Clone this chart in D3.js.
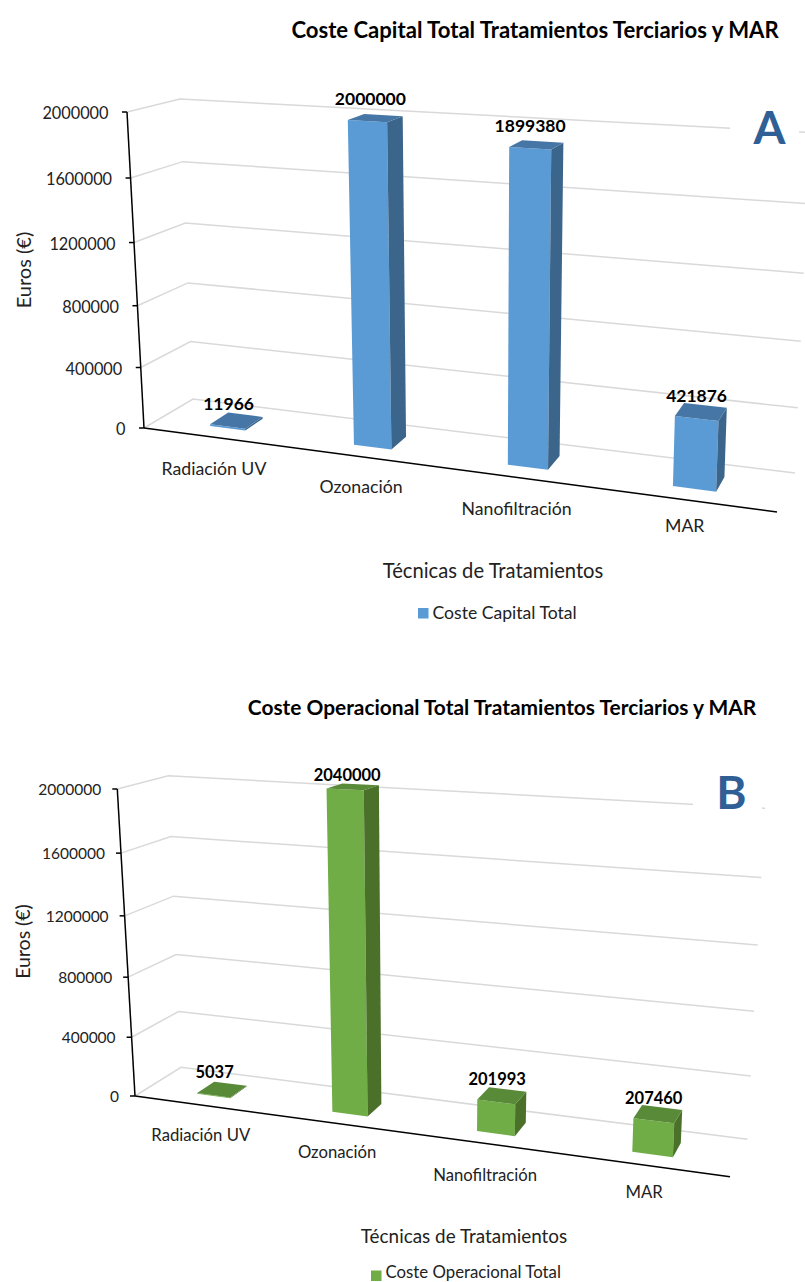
<!DOCTYPE html>
<html lang="es">
<head>
    <meta charset="UTF-8">
    <title>Costes Tratamientos Terciarios y MAR</title>
    <script src="https://d3js.org/d3.v7.min.js"></script>
    <style>
        body { margin: 0; padding: 0; background-color: #fff; }
        svg { display: block; }
        text { font-family: Lato, "Open Sans", sans-serif; fill: #222; }
    </style>
</head>
<body>
    <svg id="charts" width="805" height="1282"></svg>
    <script>
        // Chart values
        var categories = ["Radiación UV", "Ozonación", "Nanofiltración", "MAR"];
        var capitalValues = [11966, 2000000, 1899380, 421876];
        var operationalValues = [5037, 2040000, 201993, 207460];
        var yTicks = [0, 400000, 800000, 1200000, 1600000, 2000000];

        var svg = d3.select("#charts");

        // Foreshortening along the category and value axes
        var widthPersp = 0.87, heightPersp = 0.947;
        // Depth range of the bars inside the floor
        var barFront = 0.3, barBack = 0.69;

        function persp(t, a) {
            return a * t / (1 + t * (a - 1));
        }

        function lerp(p, q, t) {
            return [p[0] + (q[0] - p[0]) * t, p[1] + (q[1] - p[1]) * t];
        }

        function drawChart(c) {
            var g = svg.append("g");

            // Category position and value both run 0..1 inside the box
            var xScale = d3.scaleBand().domain(categories).range([0, 1])
                .paddingInner(0.75).paddingOuter(0.375);
            var yScale = d3.scaleLinear().domain([0, 2000000]).range([0, 1]);
            var labelScale = yScale.copy().clamp(true);

            // Maps (category, value, depth) onto the screen box
            function project(t, v, w) {
                var s = persp(t, widthPersp), r = persp(v, heightPersp);
                var bottom = lerp(lerp(c.box.fbl, c.box.fbr, s), lerp(c.box.bbl, c.box.bbr, s), w);
                var top = lerp(lerp(c.box.ftl, c.box.ftr, s), lerp(c.box.btl, c.box.btr, s), w);
                return lerp(bottom, top, r);
            }

            var line = d3.line();

            // Grid lines on the side wall and the back wall
            g.append("g").selectAll("path")
                .data(yTicks)
                .enter()
                .append("path")
                    .attr("d", function(d) {
                        var v = yScale(d);
                        return line([project(0, v, 0), project(0, v, 1), project(1, v, 1)]);
                    })
                    .attr("fill", "none")
                    .attr("stroke", "#d9d9d9")
                    .attr("stroke-width", 1.5);

            // Bars: front, side and top faces
            var rows = categories.map(function(name, i) {
                return { name: name, value: c.values[i], nudge: c.labelNudge[i] };
            });
            var bars = g.append("g").selectAll("g")
                .data(rows)
                .enter()
                .append("g");

            function face(fn, color) {
                bars.append("path")
                    .attr("d", function(d) {
                        var t0 = xScale(d.name), t1 = t0 + xScale.bandwidth(), v = yScale(d.value);
                        return line(fn(t0, t1, v)) + "Z";
                    })
                    .attr("fill", color);
            }
            face(function(t0, t1, v) {
                return [project(t0, 0, barFront), project(t1, 0, barFront), project(t1, v, barFront), project(t0, v, barFront)];
            }, c.colors[0]);
            face(function(t0, t1, v) {
                return [project(t1, 0, barFront), project(t1, 0, barBack), project(t1, v, barBack), project(t1, v, barFront)];
            }, c.colors[1]);
            face(function(t0, t1, v) {
                return [project(t0, v, barFront), project(t1, v, barFront), project(t1, v, barBack), project(t0, v, barBack)];
            }, c.colors[2]);

            // Value labels above each bar
            bars.append("text")
                .attr("x", function(d) {
                    return project(xScale(d.name) + xScale.bandwidth() / 2, labelScale(d.value), barFront)[0] + 1 + d.nudge[0];
                })
                .attr("y", function(d) {
                    return project(xScale(d.name) + xScale.bandwidth() / 2, labelScale(d.value), barFront)[1] - 23 + d.nudge[1];
                })
                .attr("text-anchor", "middle")
                .attr("dominant-baseline", "central")
                .style("font-size", c.labelSize + "px")
                .style("font-weight", "bold")
                .style("fill", "#000")
                .text(function(d) { return d.value; });

            // Value axis: axis generator, then each tick moved onto the slanted edge
            var axis = g.append("g")
                .call(d3.axisLeft(yScale).tickValues(yTicks).tickSize(5).tickPadding(c.tickPadding).tickFormat(d3.format("d")));
            axis.select(".domain")
                .attr("d", line([project(0, 0, 0), project(0, 1, 0)]))
                .attr("stroke", "#000")
                .attr("stroke-width", 1.5);
            axis.selectAll(".tick")
                .attr("transform", function(d) {
                    var p = project(0, yScale(d), 0);
                    return "translate(" + p[0] + "," + p[1] + ")";
                });
            axis.selectAll(".tick line")
                .attr("stroke", "#000")
                .attr("stroke-width", 1.5);
            axis.selectAll(".tick text")
                .attr("font-family", null)
                .attr("font-size", null)
                .attr("dy", c.tickDy)
                .style("font-size", c.tickSize + "px");

            // Floor edge and category labels
            g.append("path")
                .attr("d", line([project(0, 0, 0), project(1, 0, 0)]))
                .attr("stroke", "#000")
                .attr("stroke-width", 1.5);
            g.append("g").selectAll("text")
                .data(categories)
                .enter()
                .append("text")
                    .attr("x", function(d, i) { return project(xScale(d) + xScale.bandwidth() / 2, 0, 0)[0] + c.catNudge[i][0]; })
                    .attr("y", function(d, i) { return project(xScale(d) + xScale.bandwidth() / 2, 0, 0)[1] + c.catOffset + c.catNudge[i][1]; })
                    .attr("text-anchor", "middle")
                    .attr("dominant-baseline", "central")
                    .style("font-size", c.catSize + "px")
                    .text(function(d) { return d; });

            // Title and axis titles
            g.append("text")
                .attr("x", c.titlePos[0]).attr("y", c.titlePos[1])
                .attr("text-anchor", "middle")
                .attr("dominant-baseline", "central")
                .style("font-size", c.titleSize + "px")
                .style("font-weight", "bold")
                .style("fill", "#000")
                .text(c.title);
            g.append("text")
                .attr("transform", "translate(" + c.yTitlePos[0] + "," + c.yTitlePos[1] + ") rotate(-90)")
                .attr("text-anchor", "middle")
                .attr("dominant-baseline", "central")
                .style("font-size", c.yTitleSize + "px")
                .text("Euros (€)");
            g.append("text")
                .attr("x", c.xTitlePos[0]).attr("y", c.xTitlePos[1])
                .attr("text-anchor", "middle")
                .attr("dominant-baseline", "central")
                .style("font-size", c.xTitleSize + "px")
                .text("Técnicas de Tratamientos");

            // Legend
            g.append("rect")
                .attr("x", c.legendPos[0]).attr("y", c.legendPos[2])
                .attr("width", 10.5).attr("height", 10.5)
                .attr("fill", c.colors[0]);
            g.append("text")
                .attr("x", c.legendPos[0] + 14.5).attr("y", c.legendPos[1])
                .attr("dominant-baseline", "central")
                .style("font-size", c.legendSize + "px")
                .text(c.series);

            // Panel letter on a white patch that interrupts the top grid line
            g.append("rect")
                .attr("x", c.patch[0]).attr("y", c.patch[1])
                .attr("width", c.patch[2]).attr("height", c.patch[3])
                .attr("fill", "#fff");
            g.append("text")
                .attr("x", c.letterPos[0]).attr("y", c.letterPos[1])
                .attr("text-anchor", "middle")
                .style("font-size", "46px")
                .style("font-weight", "bold")
                .style("fill", "#2f5f95")
                .text(c.letter);
        }

        drawChart({
            title: "Coste Capital Total Tratamientos Terciarios y MAR",
            series: "Coste Capital Total",
            letter: "A",
            values: capitalValues,
            colors: ["#5b9bd5", "#3c658c", "#4676a5"],
            box: {
                fbl: [144, 428], ftl: [127, 112], bbl: [193, 399], btl: [180, 99],
                fbr: [777, 512], ftr: [792, 151.5], bbr: [795, 473], btr: [810, 132.5]
            },
            labelSize: 17.5, labelNudge: [[0, 0], [2, 0], [-1, 0], [-1, 0]],
            tickSize: 16.3, tickPadding: 13.5, tickDy: 7,
            catSize: 17.7, catOffset: 31, catNudge: [[0, 0], [0, -1], [-2, 0], [-3, -6]],
            titleSize: 22.1, titlePos: [535, 29],
            yTitleSize: 20, yTitlePos: [23, 270],
            xTitleSize: 20.2, xTitlePos: [493, 570],
            legendSize: 17.6, legendPos: [418, 612, 608],
            patch: [730, 105, 69, 45], letterPos: [769.5, 143.5]
        });

        drawChart({
            title: "Coste Operacional Total Tratamientos Terciarios y MAR",
            series: "Coste Operacional Total",
            letter: "B",
            values: operationalValues,
            colors: ["#70ad47", "#4a7029", "#588a38"],
            box: {
                fbl: [135, 1096], ftl: [117.3, 789], bbl: [181, 1067.3], btl: [168.3, 775.7],
                fbr: [730, 1176.7], ftr: [747, 821], bbr: [747.3, 1139.3], btr: [765, 808.3]
            },
            labelSize: 16.5, labelNudge: [[0, 0], [1, 2], [0, 0], [-1, 0]],
            tickSize: 15.5, tickPadding: 11, tickDy: 6,
            catSize: 16.7, catOffset: 29, catNudge: [[0, 1], [-2, -1], [-2, 2], [-2, -2]],
            titleSize: 20.9, titlePos: [502, 706],
            yTitleSize: 19.5, yTitlePos: [22, 941.5],
            xTitleSize: 18.9, xTitlePos: [464, 1235],
            legendSize: 16.8, legendPos: [371, 1271.5, 1270.5],
            patch: [693, 770, 69, 45], letterPos: [731.5, 809]
        });
    </script>
</body>
</html>
